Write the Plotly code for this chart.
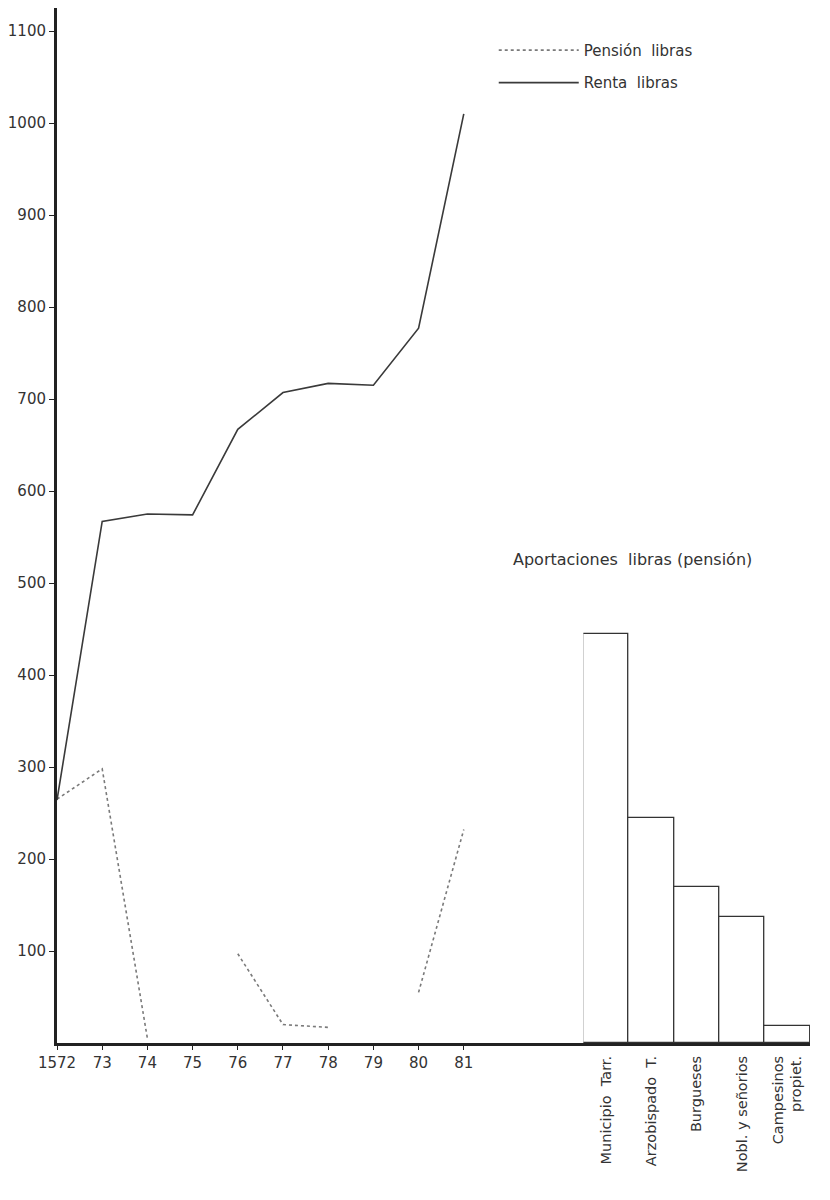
import plotly.graph_objects as go

years = [1572, 1573, 1574, 1575, 1576, 1577, 1578, 1579, 1580, 1581]
year_labels = ["1572", "73", "74", "75", "76", "77", "78", "79", "80", "81"]
renta = [264, 567, 575, 574, 667, 707, 717, 715, 777, 1010]
pension = [265, 298, 5, None, 97, 20, 17, None, 55, 232]

aport_cats = ["Municipio  Tarr.", "Arzobispado  T.", "Burgueses", "Nobl. y señorios", "Campesinos<br>propiet."]
aport_vals = [445, 245, 170, 137, 18]

y_ticks = [100, 200, 300, 400, 500, 600, 700, 800, 900, 1000, 1100]

FONT = "DejaVu Sans"
INK = "#333333"

fig = go.Figure()
fig.add_trace(go.Scatter(
    x=years, y=pension, mode="lines", name="Pensión  libras",
    legendgroup="p",
    line=dict(color="#7a7a7a", width=1.6, dash="dot"), connectgaps=False,
))
fig.add_trace(go.Scatter(
    x=years, y=renta, mode="lines", name="Renta  libras",
    legendgroup="r",
    line=dict(color="#3a3a3a", width=1.6),
))
fig.add_trace(go.Bar(
    x=aport_cats, y=aport_vals, xaxis="x2", yaxis="y", showlegend=False,
    marker=dict(color="white", line=dict(color="#333333", width=1.3)),
))

fig.update_layout(
    width=814, height=1184,
    margin=dict(l=44, r=12, t=0, b=149),
    paper_bgcolor="white", plot_bgcolor="white",
    font=dict(family=FONT, size=15, color=INK),
    bargap=0,
    showlegend=True,
    legend=dict(
        x=0.58, y=0.975, xanchor="left", yanchor="top",
        bgcolor="rgba(0,0,0,0)", font=dict(size=15, color=INK),
        itemwidth=80, tracegroupgap=10,
    ),
    xaxis=dict(
        domain=[0, 1], range=[1572, 1588.66],
        tickvals=years, ticktext=year_labels,
        showgrid=False, zeroline=False,
        showline=True, linecolor="#222222", linewidth=2.5,
        ticks="outside", ticklen=4, tickcolor="#222222",
        tickfont=dict(size=15, color=INK),
    ),
    xaxis2=dict(
        domain=[0.699, 1], anchor="y", type="category",
        showgrid=False, zeroline=False, showline=False,
        ticks="", tickangle=-90, ticklabelstandoff=9,
        tickfont=dict(size=14.5, color=INK),
    ),
    yaxis=dict(
        range=[0, 1125], tickvals=y_ticks,
        showgrid=False, zeroline=False,
        showline=True, linecolor="#222222", linewidth=3,
        ticks="outside", ticklen=5, tickcolor="#222222",
        tickfont=dict(size=15, color=INK),
    ),
    annotations=[dict(
        text="Aportaciones  libras (pensión)", xref="paper", yref="paper",
        x=0.764, y=0.467, xanchor="center", yanchor="middle",
        showarrow=False, font=dict(size=16, color=INK),
    )],
)

fig.write_html("out.html")
